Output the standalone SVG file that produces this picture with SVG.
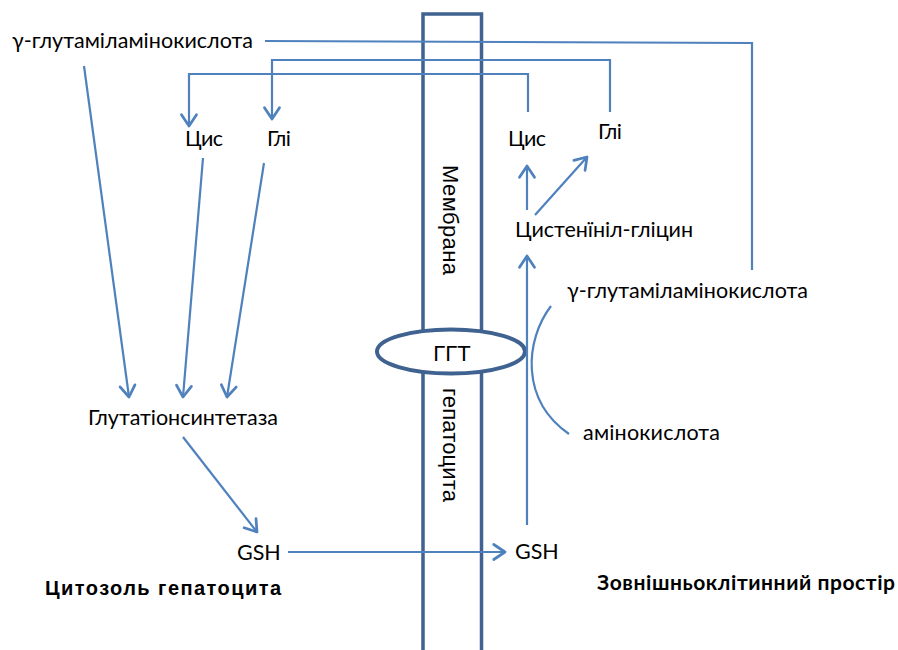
<svg xmlns="http://www.w3.org/2000/svg" width="898" height="650" viewBox="0 0 898 650">
<defs>
<marker id="arr" markerUnits="userSpaceOnUse" markerWidth="20" markerHeight="20" viewBox="-12 -8 14 16" refX="0" refY="0" orient="auto">
<path d="M-9,-6 L0,0 L-9,6" fill="none" stroke="#4F81BD" stroke-width="2.2" stroke-linecap="round" stroke-linejoin="round"/>
</marker>
<style>
.c{fill:none;stroke:#4F81BD;stroke-width:2.2}
.a{marker-end:url(#arr)}
.t{font-family:Lato,"Open Sans","Liberation Sans",sans-serif;font-size:21.5px;fill:#000}
.m{font-family:"Liberation Sans",Arial,sans-serif;font-size:22px;fill:#000}
.b{font-family:"Liberation Sans",Arial,sans-serif;font-size:20px;font-weight:bold;fill:#000}
.mem{fill:none;stroke:#3F6290;stroke-width:3.5}
</style>
</defs>
<rect width="898" height="650" fill="#fff"/>
<g id="membrane">
<path class="mem" d="M423,660 V14 H481.5 V660"/>
<text class="m" transform="translate(443,220) rotate(90)" text-anchor="middle" textLength="110">Мембрана</text>
<text class="m" transform="translate(443,445) rotate(90)" text-anchor="middle" textLength="114">гепатоцита</text>
</g>
<g id="ggt">
<ellipse cx="451" cy="351.5" rx="74" ry="22" fill="#fff" stroke="#3F6290" stroke-width="4"/>
<text class="m" x="452" y="361" text-anchor="middle" font-size="20">ГГТ</text>
</g>
<g id="connectors">
<path class="c" d="M265,41 L752,43 V270"/>
<path class="c a" d="M610,112 V60 H272 V119"/>
<path class="c a" d="M528,112 V74 H189 V126"/>
<path class="c a" d="M84,66 L129,397"/>
<path class="c a" d="M203,158 L183,397"/>
<path class="c a" d="M264,163 L227,397"/>
<path class="c a" d="M183,437 L257,532"/>
<path class="c a" d="M288,552 L505,552"/>
<path class="c a" d="M527,525 V256"/>
<path class="c a" d="M527,210 V166"/>
<path class="c a" d="M535,215 L587,157"/>
<path class="c" d="M551,306 C525,340 520,400 569,434"/>
</g>
<g id="gamma-left"><text class="t" x="12" y="48" textLength="241">γ-глутаміламінокислота</text></g>
<g id="cys-left"><text class="t" x="185" y="146" textLength="38">Цис</text></g>
<g id="gly-left"><text class="t" x="267" y="146" textLength="24">Глі</text></g>
<g id="synthetase"><text class="t" x="88" y="425" textLength="190">Глутатіонсинтетаза</text></g>
<g id="gsh-left"><text class="t" x="237" y="560" font-size="20">GSH</text></g>
<g id="cytosol-label"><text class="b" x="45" y="595" textLength="236">Цитозоль  гепатоцита</text></g>
<g id="cys-right"><text class="t" x="508" y="146" textLength="38">Цис</text></g>
<g id="gly-right"><text class="t" x="598" y="139" textLength="24">Глі</text></g>
<g id="cysgly"><text class="t" x="515" y="237" textLength="178">Цистенїніл-гліцин</text></g>
<g id="gamma-right"><text class="t" x="567" y="298" textLength="241">γ-глутаміламінокислота</text></g>
<g id="aminoacid"><text class="t" x="583" y="440" textLength="137">амінокислота</text></g>
<g id="gsh-right"><text class="t" x="515" y="559" font-size="20">GSH</text></g>
<g id="extracellular-label"><text x="597" y="590" font-family="Lato,'Open Sans','Liberation Sans',sans-serif" font-weight="bold" font-size="21" textLength="298">Зовнішньоклітинний простір</text></g>
</svg>
